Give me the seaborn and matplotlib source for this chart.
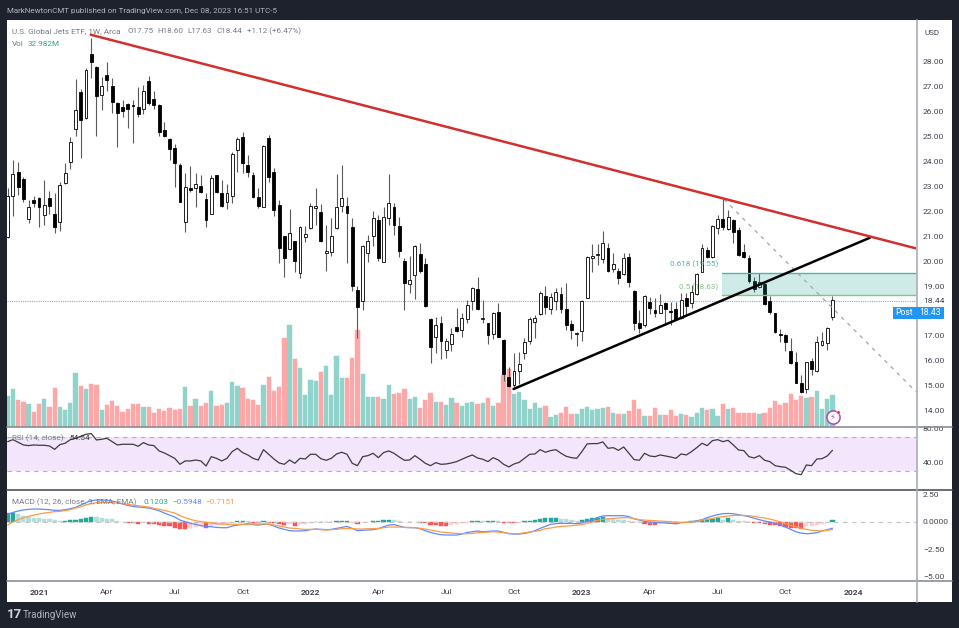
import matplotlib
matplotlib.use("Agg")
import matplotlib.pyplot as plt
from matplotlib.lines import Line2D
from matplotlib.patches import Rectangle
import seaborn as sns

# weekly candles, JETS
open_px = [20.98,22.61,23.56,23.29,21.67,22.47,22.55,21.85,22.53,21.89,
    21.55,23.14,23.96,25.28,26.79,25.72,28.30,27.77,26.66,27.46,
    27.02,26.33,26.19,26.30,26.26,26.17,26.12,27.21,26.49,26.26,
    25.26,24.88,24.52,23.85,21.55,22.92,22.92,23.01,22.50,21.87,
    23.45,22.74,22.38,22.62,24.45,24.96,23.84,23.46,22.58,22.18,
    24.93,23.57,22.25,21.00,20.47,20.82,19.51,20.98,21.31,22.11,
    21.98,20.31,20.37,21.32,22.22,22.22,21.38,18.84,18.40,20.34,
    21.01,21.65,19.98,21.72,22.16,21.41,19.99,19.08,19.43,20.29,
    19.90,17.68,16.94,17.50,16.44,16.66,17.37,17.22,17.67,18.40,
    18.87,17.69,17.50,17.06,17.96,16.84,15.36,15.03,15.61,16.30,
    16.81,17.57,17.88,18.61,18.09,18.39,18.68,18.09,17.48,17.08,
    17.18,18.52,20.11,20.25,20.07,20.51,19.70,19.59,19.48,20.17,
    18.80,17.50,17.44,18.37,18.04,17.93,18.31,17.99,18.07,17.70,
    18.51,18.31,18.68,19.58,20.45,20.15,21.34,21.70,21.28,21.65,
    21.24,20.35,20.11,19.20,18.98,19.07,18.40,17.93,17.09,17.04,
    16.38,15.95,15.10,14.86,16.00,15.58,16.65,16.73,17.75]
high_px = [22.92,24.05,23.96,23.38,22.45,22.61,22.58,23.25,22.82,22.74,
    23.18,23.92,24.96,27.29,26.89,27.73,28.96,27.82,27.39,28.00,
    27.33,26.39,26.46,26.35,26.46,26.97,27.06,27.42,26.83,26.30,
    25.59,24.92,24.69,23.95,23.54,23.81,23.54,23.45,22.74,23.45,
    23.45,23.25,23.08,24.39,24.99,25.19,24.25,23.58,22.92,24.65,
    25.06,23.72,22.47,21.01,22.07,20.82,21.40,21.40,22.35,22.92,
    22.28,21.45,21.74,23.48,23.86,22.59,21.72,19.02,20.65,21.05,
    22.02,21.85,22.18,23.48,22.32,21.78,20.11,20.21,20.65,20.71,
    20.11,17.70,17.77,17.80,16.90,17.30,18.10,17.91,18.44,18.98,
    19.38,18.44,17.53,17.97,18.33,16.86,15.77,16.30,16.37,16.90,
    17.77,17.84,18.82,19.00,18.71,18.91,18.98,19.14,17.64,17.17,
    18.44,20.21,20.69,20.69,21.22,20.71,20.31,19.74,20.31,20.34,
    18.84,18.04,18.64,18.57,18.51,18.68,18.37,18.37,18.37,18.71,
    18.71,19.04,19.54,20.69,20.55,21.45,21.85,22.49,22.05,21.68,
    21.36,20.69,20.25,19.38,19.51,19.11,18.60,17.93,17.28,17.06,
    16.90,16.37,15.43,15.97,16.10,17.01,17.14,17.34,18.60]
low_px = [20.91,21.81,22.65,22.38,21.54,22.18,21.35,21.45,21.89,21.14,
    21.22,23.08,23.68,25.02,24.12,25.68,27.33,25.02,26.08,26.83,
    25.95,24.59,25.79,25.32,24.75,25.76,25.90,26.26,26.12,25.02,
    24.99,24.05,22.98,22.38,21.18,22.78,22.15,22.72,21.35,21.87,
    22.72,22.15,22.07,22.34,23.58,23.54,23.38,22.52,22.11,22.18,
    23.18,21.81,19.91,19.35,20.44,19.57,19.31,20.78,21.27,21.45,
    20.78,19.60,20.21,21.28,21.98,19.94,18.82,16.90,18.04,19.95,
    20.61,20.02,19.98,21.45,21.05,20.15,18.04,18.71,18.47,19.51,
    18.17,15.93,16.33,16.06,16.13,16.40,17.17,16.97,17.53,18.04,
    18.04,17.53,16.68,16.88,16.94,15.21,14.96,14.96,15.07,16.06,
    16.68,16.93,17.84,17.88,17.87,18.04,17.93,17.24,16.86,16.61,
    16.81,18.51,19.58,19.84,19.91,19.58,19.58,19.10,19.44,18.98,
    17.24,17.10,17.37,17.87,17.77,17.91,17.44,17.44,17.64,17.68,
    17.84,18.11,18.64,19.58,20.11,20.11,21.09,21.25,21.25,20.74,
    20.21,20.11,19.14,18.78,18.91,18.24,17.88,17.10,16.77,16.41,
    15.87,15.10,14.72,14.70,15.43,15.54,16.61,16.43,17.63]
close_px = [22.61,23.49,22.96,22.49,22.15,22.34,22.18,22.26,22.22,21.38,
    23.04,23.54,24.79,26.08,25.66,27.66,28.00,26.63,27.02,27.26,
    26.39,25.92,26.03,26.12,26.22,25.90,26.83,26.33,26.26,25.19,
    25.02,24.48,23.95,22.38,22.98,22.85,23.09,22.78,21.65,23.32,
    22.78,22.21,22.74,24.29,24.88,23.95,23.56,22.58,22.21,24.61,
    23.38,22.05,20.51,20.11,21.11,20.00,21.38,21.08,22.21,22.22,
    20.82,20.41,21.01,22.16,22.53,21.94,19.00,18.17,20.62,20.82,
    21.72,20.11,21.76,22.33,21.44,20.39,19.12,19.24,20.61,19.60,
    18.20,16.57,17.43,16.81,16.81,17.06,17.21,17.72,18.24,18.91,
    18.08,17.72,17.02,17.91,16.97,15.46,14.99,15.59,15.87,16.74,
    17.69,17.73,18.71,18.17,18.57,18.75,18.09,17.44,17.24,17.10,
    18.41,20.15,20.22,20.29,20.74,19.62,19.89,19.34,20.11,19.15,
    17.53,17.30,18.60,18.10,17.91,18.24,18.07,17.95,17.67,18.44,
    18.21,18.78,19.47,20.54,20.15,21.42,21.68,21.36,21.76,21.18,
    20.25,20.15,19.22,18.87,19.18,18.28,17.97,17.14,17.02,16.76,
    15.90,15.12,14.75,15.94,15.69,16.74,16.81,17.33,18.44]
# volume in millions of shares
volume = [31.3,38.4,27.9,25.5,23.1,15.0,23.1,28.6,20.4,39.8,
    20.4,17.0,24.8,55.1,42.2,39.1,44.2,42.8,17.7,22.8,
    26.5,21.8,15.0,18.0,23.8,23.1,20.4,20.4,13.9,18.0,
    16.0,19.7,17.0,18.0,40.8,21.1,28.6,21.1,24.8,37.1,
    21.1,22.8,24.1,46.2,41.5,40.1,28.6,27.2,22.8,42.8,
    51.3,37.1,40.8,91.1,104.0,69.7,60.2,32.3,48.3,46.6,
    56.4,62.6,32.3,72.4,49.6,50.3,70.0,98.6,54.4,30.9,
    30.9,30.3,28.6,43.2,33.3,35.0,39.1,28.6,30.9,19.0,
    27.2,34.7,25.8,25.8,22.8,29.2,24.1,21.8,24.8,25.8,
    23.5,24.8,29.2,21.1,24.8,52.7,59.5,33.3,35.4,27.2,
    18.4,24.1,19.7,21.1,9.9,11.9,14.6,20.4,13.6,12.9,
    18.4,20.4,17.3,18.7,19.0,20.7,14.6,12.9,13.6,16.0,
    27.2,18.7,10.9,10.9,19.0,11.9,11.9,17.0,11.2,12.9,
    12.6,10.2,14.3,19.0,17.0,18.0,11.6,23.8,18.0,19.7,
    14.6,13.9,14.6,13.9,13.3,14.6,19.7,26.5,22.8,24.1,
    34.0,27.2,31.3,29.6,30.3,37.1,18.0,28.2,33.0]
rsi = [64.8,67.2,64.1,60.9,60.1,60.9,60.5,60.5,59.7,55.7,
    61.3,62.9,67.2,68.8,71.2,73.6,74.4,66.8,67.6,68.8,
    64.8,60.9,61.7,61.7,61.7,59.3,63.7,60.9,60.1,53.8,
    51.4,48.2,45.0,37.9,41.9,41.9,43.0,41.9,35.9,47.0,
    45.0,41.9,45.0,53.0,56.9,51.8,49.0,45.0,43.0,55.3,
    49.8,44.2,39.5,37.9,43.0,39.1,45.0,44.2,49.8,49.8,
    44.6,42.7,45.0,50.2,52.2,49.8,39.1,36.3,47.0,48.2,
    51.0,45.8,51.8,53.8,51.0,46.6,42.7,43.0,48.2,43.9,
    39.1,36.3,39.9,37.9,38.3,39.5,41.1,43.9,46.6,49.0,
    45.4,43.9,41.1,45.8,43.0,37.9,34.8,38.3,40.3,45.0,
    49.8,50.2,55.3,52.2,54.2,55.3,51.0,47.4,45.8,45.0,
    53.0,62.1,62.5,62.5,64.5,56.9,57.7,54.5,58.5,51.0,
    43.5,42.7,51.0,47.8,47.0,49.0,47.8,46.6,45.0,50.2,
    49.0,53.0,57.7,62.9,60.1,66.0,67.2,64.8,66.4,60.9,
    54.9,54.2,47.0,45.4,48.2,42.7,41.1,36.3,35.1,34.4,
    30.8,26.8,25.6,37.1,36.3,44.2,44.6,47.8,54.54]
macd = [.67,.85,.98,1.07,1.13,1.16,1.16,1.13,1.10,1.04,
    1.04,1.10,1.19,1.31,1.53,1.74,1.92,1.98,1.98,1.98,
    1.89,1.77,1.62,1.49,1.40,1.34,1.31,1.25,1.13,1.01,
    .79,.61,.43,.15,0,-.15,-.24,-.37,-.43,-.46,
    -.52,-.55,-.55,-.40,-.31,-.24,-.18,-.27,-.31,-.24,
    -.24,-.40,-.58,-.70,-.82,-.85,-.85,-.82,-.73,-.67,
    -.70,-.73,-.70,-.61,-.52,-.43,-.61,-.82,-.79,-.76,
    -.73,-.64,-.46,-.31,-.27,-.40,-.52,-.55,-.55,-.64,
    -.82,-.98,-1.10,-1.19,-1.22,-1.22,-1.22,-1.13,-.98,-.92,
    -.85,-.92,-.88,-.85,-.85,-.98,-1.10,-1.13,-1.13,-1.07,
    -.98,-.82,-.61,-.43,-.24,-.18,-.15,-.15,-.15,-.18,
    -.12,.06,.15,.40,.52,.55,.55,.55,.55,.46,
    .27,.15,.03,-.03,-.06,-.09,-.12,-.15,-.18,-.09,
    -.06,0,.09,.18,.37,.52,.64,.73,.76,.73,
    .64,.55,.46,.31,.18,.06,-.03,-.15,-.31,-.49,
    -.70,-.92,-1.04,-1.10,-1.07,-1.01,-.85,-.73,-.5948]
signal = [-.31,-.03,.18,.37,.49,.61,.70,.79,.85,.92,
    .95,1.01,1.10,1.25,1.37,1.53,1.65,1.74,1.77,1.77,
    1.74,1.71,1.65,1.59,1.53,1.46,1.40,1.34,1.22,1.13,
    1.04,.92,.79,.55,.37,.21,.09,0,-.06,-.12,
    -.18,-.21,-.24,-.24,-.24,-.24,-.24,-.21,-.21,-.21,
    -.24,-.31,-.40,-.49,-.58,-.61,-.67,-.70,-.70,-.70,
    -.73,-.76,-.73,-.70,-.64,-.61,-.64,-.67,-.67,-.64,
    -.64,-.61,-.55,-.49,-.49,-.49,-.52,-.52,-.55,-.61,
    -.67,-.76,-.85,-.95,-.98,-1.04,-1.07,-1.10,-1.10,-1.07,
    -1.01,-.98,-.95,-.92,-.95,-1.01,-1.07,-1.10,-1.10,-1.01,
    -.95,-.88,-.79,-.64,-.58,-.49,-.43,-.40,-.37,-.31,
    -.27,-.15,-.03,.12,.21,.27,.31,.34,.37,.37,
    .27,.18,.15,.12,.09,.06,.03,0,-.03,-.06,
    -.06,-.03,.03,.15,.21,.31,.40,.46,.52,.58,
    .58,.58,.55,.49,.40,.34,.24,.12,0,-.18,
    -.34,-.46,-.61,-.70,-.79,-.82,-.85,-.79,-.7151]
hist = [.76,.79,.67,.55,.46,.37,.31,.24,.21,.12,
    .06,.09,.12,.18,.27,.37,.46,.40,.37,.27,
    .21,.09,0,-.09,-.12,-.24,-.06,-.24,-.24,-.31,
    -.37,-.43,-.55,-.67,-.67,-.61,-.52,-.43,-.61,-.37,
    -.31,-.27,-.21,-.12,.06,.09,.06,-.09,-.12,.06,
    -.09,-.15,-.24,-.31,-.21,-.37,-.24,-.18,-.09,0,
    -.06,-.06,-.06,.06,.09,.09,-.06,-.18,-.06,-.03,
    .06,.06,.12,.18,.15,.06,0,-.06,-.03,-.09,
    -.12,-.31,-.34,-.40,-.40,-.31,-.18,-.15,-.09,.06,
    .06,.03,.03,.09,.03,-.09,-.15,-.15,-.09,.03,
    .09,.15,.27,.31,.34,.34,.24,.21,.15,.09,
    .12,.24,.31,.37,.46,.27,.21,.18,.15,.06,
    -.06,-.06,-.24,-.27,-.27,-.15,-.12,-.09,-.24,-.06,
    -.03,.03,.09,.18,.21,.27,.34,.12,.37,.18,
    .09,.06,-.06,-.09,-.15,-.21,-.27,-.34,-.43,-.52,
    -.58,-.61,-.67,-.43,-.40,-.27,-.18,-.09,.1203]

price_ticks = [14,15,16,17,19,20,21,22,23,24,25,26,27,28]
rsi_ticks = [40,80]
macd_ticks = [2.5,0,-2.5,-5]
macd_tick_labels = ["2.50","0.0000","\u22122.50","\u22125.00"]
time_pos = [6,19,32,45,58,71,84,97,110,123,136,149,162]
time_labels = ["2021","Apr","Jul","Oct","2022","Apr","Jul","Oct","2023","Apr","Jul","Oct","2024"]

# drawn tools: bar number, price
red_x, red_y = [15.9,174], [29.08,20.51]
black_x, black_y = [96.9,165.2], [14.87,20.94]
dash_x, dash_y = [137.2,174], [22.48,14.76]
fib_x, fib_hi, fib_lo = [136.9,174], 19.54, 18.63
last_price = 18.41

W, H = 959, 628
DARK = "#1e222d"
GREY = "#787b86"
TEXT = "#434651"
FS = 5.9

sns.set_theme(style="white")
plt.rcParams["font.family"] = ["Roboto", "DejaVu Sans"]

fig = plt.figure(figsize=(W / 100, H / 100), dpi=100, facecolor=DARK)


def pane(top, bottom):
    return fig.add_axes([7 / W, 1 - bottom / H, (916 - 7) / W, (bottom - top) / H], facecolor="none")


def label(x, y, s, color=GREY, size=FS, ha="left", **kw):
    return fig.text(x / W, 1 - y / H, s, color=color, fontsize=size, ha=ha, va="center", **kw)


def hline(x0, x1, y0, y1, color, lw=1.2, z=3):
    fig.add_artist(Line2D([x0 / W, x1 / W], [1 - y0 / H, 1 - y1 / H], color=color, lw=lw, zorder=z))


def widen(a, w):
    # seaborn leaves these too thin once they land on the pixel grid
    for p in a.patches:
        mid = p.get_x() + p.get_width() / 2
        p.set_width(w)
        p.set_x(mid - w / 2)
        p.set_edgecolor(p.get_facecolor())
        p.set_linewidth(0.3)


fig.add_artist(Rectangle((7 / W, 1 - 601.5 / H), 945 / W, 581.5 / H, transform=fig.transFigure,
                         facecolor="white", edgecolor="none", zorder=-1))

bars = list(range(len(close_px)))
XLIM = (-0.134, 174)

ax = pane(20, 427)
ax_rsi = pane(427, 490)
ax_macd = pane(490, 581)

# volume sits behind the candles on its own scale
ax_vol = ax.twinx()
ax.set_zorder(ax_vol.get_zorder() + 1)
ax.patch.set_visible(False)
vol_dir = ["up" if c >= o else "down" for o, c in zip(open_px, close_px)]
sns.barplot(x=bars, y=volume, hue=vol_dir, palette={"up": "#8fd3ca", "down": "#fca8a8"}, dodge=False,
            native_scale=True, legend=False, width=0.9, saturation=1, ax=ax_vol)
widen(ax_vol, 0.82)
ax_vol.set_ylim(0, 415)
ax_vol.set_axis_off()

# candles
ax.vlines(bars, low_px, high_px, color="#5a5a5a", lw=0.8, zorder=2)
for i in bars:
    lo, hi = min(open_px[i], close_px[i]), max(open_px[i], close_px[i])
    face = "white" if close_px[i] >= open_px[i] else "black"
    ax.bar(i, max(hi - lo, 0.03), bottom=lo, width=0.55, color=face, edgecolor="black", lw=0.6, zorder=3)

# fib zone, dotted last price, trend lines
ax.fill_between(fib_x, fib_lo, fib_hi, color="#26a69a", alpha=0.22, lw=0, zorder=4)
ax.plot(fib_x, [fib_hi, fib_hi], color="#4db6ac", lw=1.0, zorder=4)
ax.plot(fib_x, [fib_lo, fib_lo], color="#81c784", lw=1.0, zorder=4)
ax.axhline(last_price, color="#64b5f6", lw=0.8, ls=(0, (1, 1)), zorder=1)
sns.lineplot(x=dash_x, y=dash_y, color="#a6a6a6", lw=0.9, ls=(0, (3, 4)), ax=ax, zorder=4)
sns.lineplot(x=black_x, y=black_y, color="black", lw=1.8, ax=ax, zorder=5)
sns.lineplot(x=red_x, y=red_y, color="#d32f2f", lw=1.8, ax=ax, zorder=5)
ax.set_ylim(13.346, 29.67)
ax.set_yticks(price_ticks + [last_price])
ax.set_yticklabels(["%.2f" % t for t in price_ticks] + ["18.44"])

# RSI
ax_rsi.axhspan(30, 70, color="#f3e5fc", lw=0)
ax_rsi.axhline(70, color="#b0b0b0", lw=0.8, ls=(0, (4, 4)))
ax_rsi.axhline(30, color="#b0b0b0", lw=0.8, ls=(0, (4, 4)))
sns.lineplot(x=bars, y=rsi, color="#3c3c3c", lw=0.9, ax=ax_rsi)
ax_rsi.set_ylim(7.4, 82.2)
ax_rsi.set_yticks(rsi_ticks)
ax_rsi.set_yticklabels(["%.2f" % t for t in rsi_ticks])

# MACD
hist_kind = []
prev = 0
for v in hist:
    if v >= 0:
        hist_kind.append("up" if v >= prev else "up_fade")
    else:
        hist_kind.append("dn" if v <= prev else "dn_fade")
    prev = v
ax_macd.axhline(0, color="#c4c4c4", lw=0.8, ls=(0, (4, 4)))
sns.barplot(x=bars, y=hist, hue=hist_kind, dodge=False, native_scale=True, legend=False, width=0.9, saturation=1,
            palette={"up": "#26a69a", "up_fade": "#b2dfdb", "dn": "#ff5252", "dn_fade": "#ffcdd2"}, ax=ax_macd)
widen(ax_macd, 0.8)
sns.lineplot(x=bars, y=macd, color="#5b8cff", lw=0.9, ax=ax_macd)
sns.lineplot(x=bars, y=signal, color="#ff9a47", lw=0.9, ax=ax_macd)
ax_macd.set_ylim(-5.425, 2.9)
ax_macd.set_yticks(macd_ticks)
ax_macd.set_yticklabels(macd_tick_labels)

for a in [ax, ax_rsi, ax_macd, ax_vol]:
    a.set_xlim(*XLIM)
for a in [ax, ax_rsi, ax_macd]:
    a.set_xlabel("")
    a.set_ylabel("")
    a.yaxis.tick_right()
    a.tick_params(axis="y", length=0, pad=5, labelsize=FS + 0.2, labelcolor=TEXT)
    for s in a.spines.values():
        s.set_visible(False)
ax.set_xticks([])
ax_rsi.set_xticks([])
ax_macd.set_xticks(time_pos)
ax_macd.set_xticklabels(time_labels)
ax_macd.tick_params(axis="x", length=0, pad=6, labelsize=FS + 0.2, labelcolor=TEXT)
for t in ax_macd.get_xticklabels():
    if t.get_text().isdigit():
        t.set_fontweight("bold")

# pane borders
hline(7, 952, 427, 427, "#8a8d96")
hline(7, 952, 490, 490, "#50535e")
hline(7, 952, 581, 581, "#8a8d96")
hline(916.5, 916.5, 20, 601.5, "#a8abb3")

# header and legends
label(7, 11, "MarkNewtonCMT published on TradingView.com, Dec 08, 2023 16:51 UTC-5", color="#b2b5be", size=5.75)
label(12, 31, "U.S. Global Jets ETF, 1W, Arca", size=FS)
label(127, 31, "O17.75", size=FS)
label(157.5, 31, "H18.60", size=FS)
label(187.5, 31, "L17.63", size=FS)
label(216.5, 31, "C18.44", size=FS)
label(247, 31, "+1.12 (+6.47%)", size=FS)
label(12, 43.5, "Vol", size=FS)
label(28, 43.5, "32.982M", color="#26a69a", size=FS)
label(932, 33, "USD", color=TEXT, size=FS, ha="center")

label(718, 264.5, "0.618 (19.55)", color="#4db6ac", size=FS, ha="right", zorder=6)
label(718, 287.5, "0.5 (18.63)", color="#81c784", size=FS, ha="right", zorder=6)

label(12, 438, "RSI (14, close)", size=FS, zorder=6)
label(69, 438, "54.54", color="#333333", size=FS, zorder=6)
label(12, 502, "MACD (12, 26, close, 9, EMA, EMA)", size=FS, zorder=6)
label(143, 502, "0.1203", color="#26a69a", size=FS, zorder=6)
label(172, 502, "\u22120.5948", color="#5b8cff", size=FS, zorder=6)
label(205.5, 502, "\u22120.7151", color="#ff9a47", size=FS, zorder=6)

# post market tag
fig.add_artist(Rectangle((893 / W, 1 - 318.7 / H), 51 / W, 12 / H, transform=fig.transFigure,
                         facecolor="#2196f3", edgecolor="none", zorder=6))
label(904.5, 312.7, "Post", color="white", size=FS + 0.3, ha="center", zorder=7)
label(930.5, 312.7, "18.43", color="white", size=FS + 0.3, ha="center", zorder=7)

# bolt badge
fig.add_artist(Line2D([832.7 / W], [1 - 417 / H], marker="o", ms=9.5, mfc="white", mec="#ab47bc", mew=1.1,
                      transform=fig.transFigure, zorder=6))
label(832.7, 417, "\u26a1", color="#ab47bc", size=6, ha="center", family=["DejaVu Sans"], zorder=7)
fig.add_artist(Line2D([838 / W], [1 - 411.7 / H], marker="o", ms=2.5, mfc="#f23645", mec="white", mew=0.3,
                      transform=fig.transFigure, zorder=8))

# footer logo
label(7, 615, "17", color="#d1d4dc", size=9.5, fontweight="bold")
label(22.5, 615, "TradingView", color="#b2b5be", size=7)

fig.savefig("out.png", dpi=100, facecolor=fig.get_facecolor())
